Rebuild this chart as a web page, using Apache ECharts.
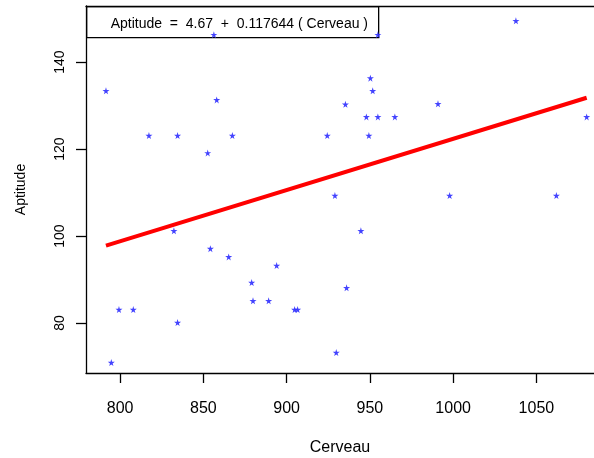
<!DOCTYPE html>
<html>
<head>
<meta charset="utf-8">
<script src="https://cdn.jsdelivr.net/npm/echarts@6/dist/echarts.min.js"></script>
<style>
html,body{margin:0;padding:0;background:#fff;}
#chart{width:594px;height:458px;}
</style>
</head>
<body>
<div id="chart"></div>
<script>
// Data
const cerveau = [856.3, 791.5, 858.0, 817.3, 834.5, 867.4, 852.6,
  954.8, 950.3, 951.7, 935.3, 947.9, 954.8, 965.0, 924.4, 949.4, 929.0,
  1037.7, 990.9, 1080.2, 997.9, 1062.0,
  832.3, 854.2, 865.2, 879.0, 879.8, 799.3, 807.9, 834.5, 794.7,
  944.6, 894.0, 936.0, 889.2, 904.8, 906.6, 929.8];
const aptitude = [146.3, 133.4, 131.3, 123.1, 123.1, 123.1, 119.1,
  146.3, 136.3, 133.4, 130.3, 127.4, 127.4, 127.4, 123.1, 123.1, 109.3,
  149.5, 130.4, 127.4, 109.3, 109.3,
  101.2, 97.1, 95.2, 89.3, 85.1, 83.1, 83.1, 80.1, 70.9,
  101.2, 93.2, 88.1, 85.1, 83.1, 83.1, 73.2];
// Fitted line end points (Aptitude = 4.67 + 0.117644 Cerveau)
const lineX = [791.5, 1080.2];
const lineY = [97.8, 131.8];
const xTicks = [800, 850, 900, 950, 1000, 1050];
const yTicks = [80, 100, 120, 140];
const legendText = 'Aptitude  =  4.67  +  0.117644 ( Cerveau )';

const chart = echarts.init(document.getElementById('chart'), null, {renderer: 'canvas'});
const FONT = 'Liberation Sans, Arial, Helvetica, sans-serif';
const star = 'path://M50,0 L61,35 L98,35 L68,57 L79,91 L50,70 L21,91 L32,57 L2,35 L39,35 Z';
const axisLineStyle = {color: '#000', width: 1.3};

chart.setOption({
  animation: false,
  backgroundColor: '#fff',
  grid: {left: 86, top: 6, right: 0, height: 367, show: false, containLabel: false, outerBoundsMode: 'none'},
  xAxis: [{
    type: 'value', min: 779.5, max: 1084.6, position: 'bottom',
    name: 'Cerveau', nameLocation: 'middle', nameGap: 67,
    nameTextStyle: {fontFamily: FONT, fontSize: 16, color: '#000'},
    axisLine: {show: true, onZero: false, lineStyle: axisLineStyle},
    splitLine: {show: false},
    axisTick: {show: true, inside: false, length: 10, customValues: xTicks, lineStyle: axisLineStyle},
    axisLabel: {customValues: xTicks, margin: 28, fontFamily: FONT, fontSize: 16, color: '#000', formatter: v => String(v)}
  }, {
    type: 'value', min: 779.5, max: 1084.6, position: 'top',
    axisLine: {show: true, onZero: false, lineStyle: axisLineStyle},
    splitLine: {show: false}, axisTick: {show: false}, axisLabel: {show: false}
  }],
  yAxis: {
    type: 'value', min: 68.5, max: 152.9,
    name: 'Aptitude', nameLocation: 'middle', nameGap: 58,
    nameTextStyle: {fontFamily: FONT, fontSize: 14, color: '#000'},
    axisLine: {show: true, onZero: false, lineStyle: axisLineStyle},
    splitLine: {show: false},
    axisTick: {show: true, inside: false, length: 10, customValues: yTicks, lineStyle: axisLineStyle},
    axisLabel: {customValues: yTicks, rotate: 90, margin: 19, fontFamily: FONT, fontSize: 14, color: '#000', formatter: v => String(v)}
  },
  series: [
    {
      type: 'scatter',
      data: cerveau.map((v, i) => [v, aptitude[i]]),
      symbol: star, symbolSize: 7,
      itemStyle: {color: '#2f2fff', opacity: 0.9},
      z: 3
    },
    {
      type: 'line',
      data: lineX.map((v, i) => [v, lineY[i]]),
      showSymbol: false, symbol: 'none',
      lineStyle: {color: '#ff0000', width: 4},
      z: 2
    }
  ],
  graphic: [
    {
      type: 'group', left: 86, top: 6, z: 100,
      children: [
        {type: 'rect', shape: {x: 0, y: 0, width: 292, height: 31}, style: {fill: '#fff', stroke: '#000', lineWidth: 1.3}},
        {type: 'text', x: 24, y: 17, style: {text: legendText, font: '14px ' + FONT, fill: '#000', verticalAlign: 'middle'}}
      ]
    }
  ]
});
</script>
</body>
</html>
